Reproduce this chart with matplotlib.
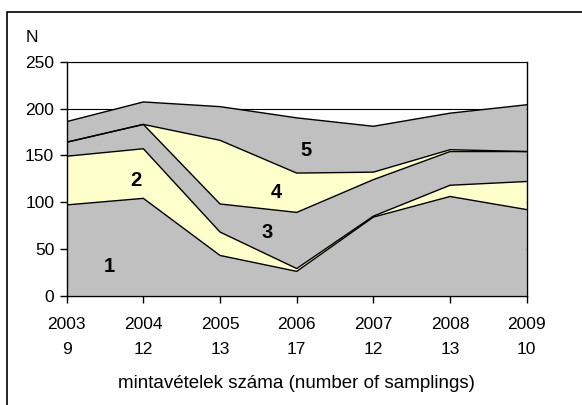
import numpy as np
import matplotlib.pyplot as plt
from matplotlib.patches import Rectangle

plt.rcParams['font.family'] = ['Liberation Sans', 'DejaVu Sans']

years = ['2003', '2004', '2005', '2006', '2007', '2008', '2009']
samplings = [9, 12, 13, 17, 12, 13, 10]

# stacked layers, bottom to top
layer1 = [97, 104, 43, 26, 84, 106, 92]
layer2 = [52, 53, 25, 3, 1, 12, 30]
layer3 = [15, 26, 30, 60, 39, 36, 32]
layer4 = [0, 0, 68, 42, 8, 2, 0]
layer5 = [22, 24, 36, 59, 49, 39, 50]
layer_names = ['1', '2', '3', '4', '5']
layer_colors = ['#C0C0C0', '#FFFFCC', '#C0C0C0', '#FFFFCC', '#C0C0C0']
# where the layer numbers sit (x index, y value)
name_pos = [(0.56, 31), (0.9, 123), (2.62, 67), (2.73, 110), (3.12, 155)]

x = np.arange(len(years))
layers = np.array([layer1, layer2, layer3, layer4, layer5], dtype=float)
tops = np.cumsum(layers, axis=0)

fig = plt.figure(figsize=(5.82, 4.05), dpi=100)
fig.patches.append(Rectangle((7 / 582, -0.1), 1.2, 1 - 12 / 405 + 0.1,
                             transform=fig.transFigure, fill=False,
                             edgecolor='black', linewidth=1.2))

ax = fig.add_axes([66.7 / 582, 1 - 295.7 / 405, 460 / 582, 234 / 405])

bottom = np.zeros(len(x))
for top, col in zip(tops, layer_colors):
    ax.fill_between(x, bottom, top, facecolor=col, edgecolor='none', zorder=2)
    bottom = top
for top in tops:
    ax.plot(x, top, color='black', linewidth=1.0, zorder=3)

for name, (px, py) in zip(layer_names, name_pos):
    ax.text(px, py, name, fontsize=14.5, fontweight='bold', ha='center',
            va='center', zorder=4)

ax.set_xlim(0, len(years) - 1)
ax.set_ylim(0, 250)
ax.set_yticks(np.arange(0, 251, 50))
ax.yaxis.grid(True, color='black', linewidth=0.8, zorder=1)
ax.set_axisbelow(True)
ax.set_xticks(x)
ax.set_xticklabels([f'{y}\n{n}' for y, n in zip(years, samplings)],
                   linespacing=1.78)
ax.tick_params(axis='both', labelsize=12.5, length=5, width=1, direction='out')
ax.tick_params(axis='x', pad=10.5)
ax.tick_params(axis='y', pad=4)
for s in ax.spines.values():
    s.set_linewidth(1.0)
    s.set_zorder(5)
ax.spines['top'].set_linewidth(0.8)

ax.set_xlabel('mintavételek száma (number of samplings)', fontsize=13.5,
              labelpad=13)
fig.text(32 / 582, 1 - 38 / 405, 'N', fontsize=12.5, ha='center', va='center')

fig.savefig('out.png', dpi=100)
